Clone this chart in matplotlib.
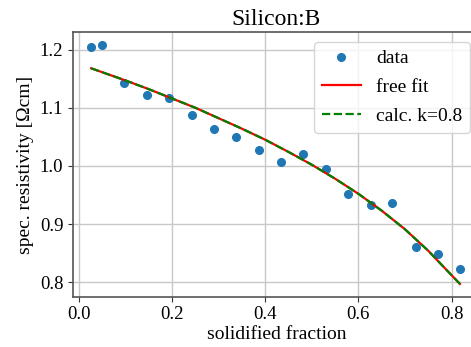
import matplotlib

matplotlib.use("Agg")
import matplotlib.pyplot as plt

# measured resistivity along the ingot
fs_data = [0.026, 0.050, 0.096, 0.145, 0.193, 0.242, 0.289, 0.338, 0.386,
           0.434, 0.481, 0.531, 0.577, 0.626, 0.673, 0.723, 0.770, 0.818]
rho_data = [1.204, 1.208, 1.142, 1.122, 1.117, 1.087, 1.063, 1.050, 1.027,
            1.007, 1.021, 0.995, 0.952, 0.933, 0.937, 0.860, 0.848, 0.822]

# fitted / calculated Scheil curves
fs_curve = [0.026, 0.10, 0.15, 0.20, 0.25, 0.30, 0.35, 0.40, 0.45,
            0.50, 0.55, 0.60, 0.65, 0.70, 0.75, 0.80, 0.818]
rho_fit = [1.168, 1.147, 1.132, 1.116, 1.100, 1.082, 1.064, 1.045, 1.024,
           1.002, 0.978, 0.952, 0.923, 0.891, 0.854, 0.812, 0.797]
rho_calc = [1.168, 1.147, 1.132, 1.116, 1.100, 1.082, 1.064, 1.045, 1.024,
            1.002, 0.978, 0.952, 0.923, 0.891, 0.854, 0.812, 0.797]

x_ticks = [0.0, 0.2, 0.4, 0.6, 0.8]
y_ticks = [0.8, 0.9, 1.0, 1.1, 1.2]

plt.rcParams["font.family"] = ["Liberation Serif", "DejaVu Serif"]

fig = plt.figure(figsize=(4.71, 3.47), dpi=100)
# axes run a little past the right edge of the canvas
ax = fig.add_axes([0.155, 0.145, 0.864, 0.762])

ax.plot(fs_data, rho_data, "o", color="#1f77b4", markersize=5.5, label="data")
ax.plot(fs_curve, rho_fit, "-", color="red", lw=1.6, label="free fit")
ax.plot(fs_curve, rho_calc, "--", color="green", lw=1.6, label="calc. k=0.8")

ax.set_xlim(-0.013, 0.861)
ax.set_ylim(0.775, 1.23)
ax.set_xticks(x_ticks)
ax.set_yticks(y_ticks)
ax.tick_params(labelsize=13.5, color="#333333")
ax.grid(color="#c8c8c8", lw=1.0)
for s in ax.spines.values():
    s.set_color("#555555")
    s.set_linewidth(1.2)

ax.set_xlabel("solidified fraction", fontsize=14, labelpad=2)
ax.set_ylabel("spec. resistivity [\u03a9cm]", fontsize=14, labelpad=4)
ax.set_title("Silicon:B", fontsize=17, pad=5)
ax.legend(loc="upper right", fontsize=14, handlelength=2.0,
          labelspacing=0.58, borderaxespad=0.5, framealpha=0.8)

plt.savefig("out.png", dpi=100)
plt.close()
